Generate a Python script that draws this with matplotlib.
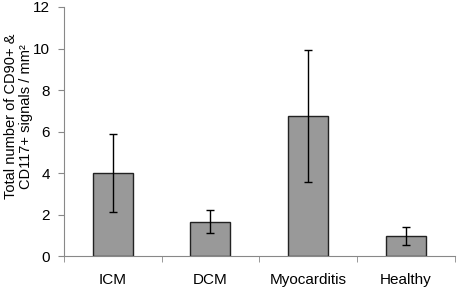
import numpy as np
import matplotlib.pyplot as plt

plt.rcParams['font.family'] = ['Liberation Sans', 'DejaVu Sans']

groups = ['ICM', 'DCM', 'Myocarditis', 'Healthy']
means = [4.0, 1.65, 6.75, 0.97]
errs = [1.9, 0.55, 3.2, 0.44]

fig = plt.figure(figsize=(4.59, 2.91), dpi=100)
ax = fig.add_axes([0.139, 0.12, 0.852, 0.856])

x = np.arange(len(groups))
ax.bar(x, means, width=0.41, color='#999999', edgecolor='#222222', linewidth=1.0,
       yerr=errs, error_kw=dict(ecolor='black', elinewidth=1.0, capsize=3, capthick=1.0))

ax.set_xlim(-0.5, len(groups) - 0.5)
ax.set_ylim(0, 12)
ax.set_yticks(range(0, 13, 2))
ax.set_xticks(x)
ax.set_xticklabels(groups, fontsize=11)
ax.set_xticks(np.arange(-0.5, len(groups)), minor=True)
ax.tick_params(axis='x', which='major', length=0, pad=12)
ax.tick_params(axis='x', which='minor', length=4, color='#888888', direction='out')
ax.tick_params(axis='y', length=4, color='#888888', labelsize=11, pad=6, direction='out')

for s in ['top', 'right']:
    ax.spines[s].set_visible(False)
for s in ['left', 'bottom']:
    ax.spines[s].set_color('#888888')
    ax.spines[s].set_linewidth(0.8)

ax.set_ylabel('Total number of CD90+ &\nCD117+ signals / mm²', fontsize=10.5, linespacing=1.05)
ax.yaxis.set_label_coords(-0.079, 0.56)

fig.savefig('out.png', dpi=100)
